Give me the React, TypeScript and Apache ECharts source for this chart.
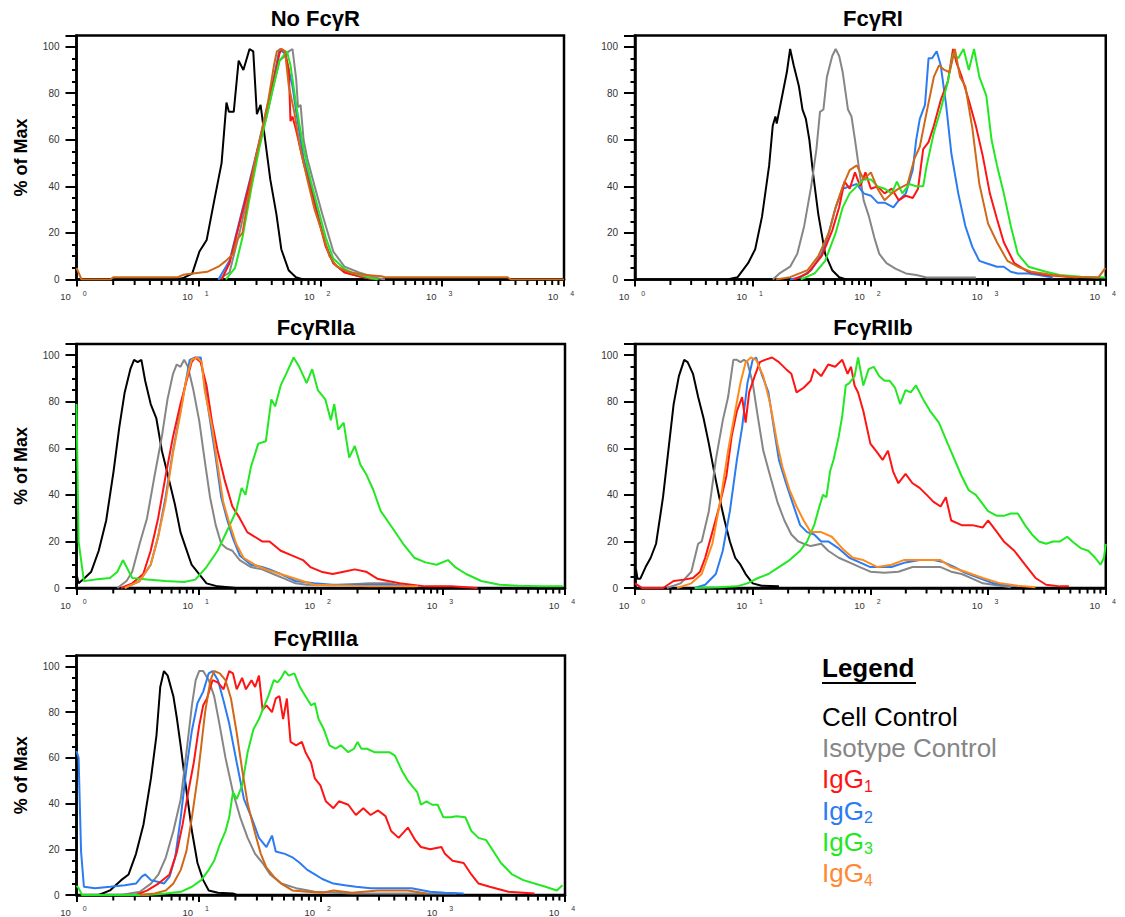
import React, { useEffect, useRef } from 'react';
import * as echarts from 'echarts';

type Pt = [number, number];

const panelTitles = ['No FcγR', 'FcγRI', 'FcγRIIa', 'FcγRIIb', 'FcγRIIIa'];
const seriesNames = ['Cell Control', 'Isotype Control', 'IgG1', 'IgG2', 'IgG3', 'IgG4'];
const legendTitle = 'Legend';
const yAxisName = '% of Max';
const minorTickValues = [2, 3, 4, 5, 6, 7, 8, 9, 20, 30, 40, 50, 60, 70, 80, 90, 200, 300, 400, 500, 600, 700, 800, 900, 2000, 3000, 4000, 5000, 6000, 7000, 8000, 9000];

// ---------- Panel 1: No FcγR ----------
const p1Cell: Pt[] = [[6.3,0],[7.4,0.5],[8.9,2.5],[10.2,12],[11.7,17],[13.5,34],[15.5,50],[17.0,76],[17.8,72],[19.5,72],[21.4,94],[23.4,90],[26.3,99],[28.2,98],[30.2,71],[32.4,75],[34.7,63],[38.9,43],[43.7,28],[47.9,13],[55.0,4],[63.1,1],[72.4,0]];
const p1Iso: Pt[] = [[14.6,0],[18.0,3],[22.2,22],[27.4,44],[31.5,58],[36.3,70],[41.7,84],[46.3,94],[51.4,96],[55.2,98],[59.2,99],[63.5,86],[65.7,74],[69.0,75],[73.0,60],[78.3,52],[90.0,40],[104,28],[128,12],[158,5.5],[208,3],[257,1.5],[300,0.5],[340,0]];
const p1IgG1: Pt[] = [[15.5,0],[18.0,7],[22.2,26],[27.4,45],[31.5,58],[36.3,72],[41.7,86],[46.3,97],[48.0,99],[51.4,98],[55.2,90],[57.0,68],[59.2,70],[63.5,64],[73.0,50],[84.0,38],[96.6,26],[111,14],[128,7],[158,3],[208,1.4],[257,0.4],[300,0]];
const p1IgG2: Pt[] = [[14.6,0],[18.0,8],[22.2,27],[27.4,46],[31.5,59],[36.3,73],[41.7,87],[46.3,99],[51.4,97],[59.2,83],[63.5,72],[73.0,52],[84.0,40],[96.6,27],[111,15],[128,7],[158,3.3],[208,1.4],[257,0.4],[296,0]];
const p1IgG3: Pt[] = [[16.8,0],[20.0,5],[23.0,18],[27.4,40],[31.5,56],[36.3,70],[41.7,84],[46.3,94],[51.4,97],[53.2,98],[57.0,92],[63.5,75],[73.0,56],[84.0,42],[96.6,30],[111,18],[128,9],[158,4.5],[181,3],[208,2],[257,0.7],[300,0]];
const p1IgG4: Pt[] = [[1.0,5],[1.1,0],[1.9,0],[2.0,1],[6.8,1],[7.5,2],[11.8,3.3],[14.6,5.5],[16.8,8],[19.3,11],[20.7,17],[23.0,20],[25.5,34],[29.4,52],[33.8,66],[37.5,77],[41.7,92],[44.1,98],[48.0,99],[51.4,98],[55.2,83],[61.2,72],[68.1,57],[78.3,43],[89.9,30],[104,20],[119,10],[137,5.5],[169,3.3],[224,2],[318,1.4],[340,1],[3430,1],[3670,0],[10000,0]];

// ---------- Panel 2: FcγRI ----------
const p2Cell: Pt[] = [[6.07,0],[7.45,1],[9.14,7],[10.5,13],[12.0,27],[13.8,49],[14.8,66],[15.6,70],[16.0,67],[17.5,77],[19.5,89],[20.8,99],[22.3,92],[24.7,83],[26.5,73],[28.3,69],[30.3,60],[32.5,46],[36.1,28],[41.3,11],[47.4,4],[54.3,1],[62.4,0]];
const p2Iso: Pt[] = [[14.8,0],[16.9,2.6],[20.8,5.5],[23.9,11],[27.4,23],[31.4,40],[34.8,56],[37.3,72],[39.9,73],[42.7,87],[47.4,96],[50.7,99],[54.3,96],[58.2,89],[64.5,73],[69.1,70],[74.0,60],[82.0,44],[87.7,34],[97.3,27],[108,18],[119,11],[137,7],[163,4.7],[200,2.6],[245,1.9],[301,0.9],[455,0.9],[787,0.9]];
const p2IgG1: Pt[] = [[22.3,0],[29.3,2.6],[38.6,10],[47.4,21],[54.3,31],[60.2,42],[66.7,39],[74.0,46],[82.0,40],[90.8,46],[101,39],[115,40],[132,37],[152,39],[174,34],[200,36],[229,35],[254,39],[281,56],[312,59],[346,66],[396,77],[455,85],[504,99],[540,93],[598,87],[686,77],[787,66],[902,53],[1035,37],[1190,26],[1360,16],[1670,7],[2200,3.3],[3100,1.9],[4680,1.2],[5740,0.9]];
const p2IgG2: Pt[] = [[20.8,0],[25.6,1],[31.4,4],[38.6,11],[44.3,20],[50.7,31],[58.2,39],[66.7,40],[76.6,41],[87.7,37],[101,36],[115,33],[132,33],[157,31],[174,34],[200,37],[229,47],[245,60],[263,69],[291,75],[312,95],[334,95],[366,98],[396,92],[440,75],[488,54],[558,37],[641,23],[735,14],[843,8],[966,7],[1190,5.5],[1360,5.5],[1560,3.3],[1790,2.6],[2200,2.6],[2700,1.9],[3550,0.9]];
const p2IgG3: Pt[] = [[25.6,0],[33.6,2.6],[41.3,8],[50.7,20],[58.2,31],[66.7,37],[76.6,40],[87.7,43],[101,43],[115,40],[132,39],[152,37],[168,42],[187,37],[214,41],[245,40],[281,40],[301,49],[346,63],[396,73],[455,85],[504,97],[558,95],[619,99],[686,90],[760,99],[843,87],[966,79],[1070,60],[1190,49],[1360,37],[1560,23],[1790,11],[2200,5.5],[3100,3.3],[4070,1.9],[6150,1.2],[9930,0.9]];
const p2IgG4: Pt[] = [[15.8,0],[20.8,1],[29.3,4],[36.1,10],[44.3,20],[50.7,31],[58.2,40],[66.7,47],[76.6,49],[87.7,43],[101,46],[115,39],[132,34],[152,37],[174,39],[207,41],[237,52],[263,57],[301,72],[346,87],[383,92],[425,90],[471,89],[522,99],[578,87],[641,83],[735,65],[843,41],[1000,24],[1190,16],[1460,8],[1790,5.5],[2350,3.3],[3550,1.9],[5000,1.2],[8670,0.9],[9930,5]];

// ---------- Panel 3: FcγRIIa ----------
const p3Cell: Pt[] = [[1.0,0],[1.01,5],[1.04,2],[1.15,4],[1.32,7],[1.52,16],[1.75,29],[2.01,50],[2.24,69],[2.48,84],[2.76,94],[2.96,98],[3.17,97],[3.40,98],[3.65,89],[4.05,79],[4.50,73],[5.00,59],[5.75,46],[6.39,36],[7.10,24],[7.88,17],[8.76,10],[10.1,6],[11.6,2],[14.3,0.7],[17.6,0.3],[20.3,0]];
const p3Iso: Pt[] = [[2.16,0],[2.57,3],[2.86,7],[3.29,19],[3.78,30],[4.35,48],[5.00,65],[5.56,81],[6.17,92],[6.62,96],[7.10,95],[7.61,98],[8.17,95],[9.06,85],[10.1,72],[11.2,55],[12.4,39],[13.8,27],[15.3,19],[17.0,17],[18.9,16],[21.7,12],[26.8,9],[33.1,8],[40.8,6],[50.4,4],[62.1,2],[76.6,1.4],[125,1.2],[252,2],[357,2],[507,0.7]];
const p3IgG1: Pt[] = [[2.32,0],[2.86,2],[3.52,6],[4.05,16],[4.66,30],[5.36,48],[6.17,65],[7.10,79],[7.88,88],[8.76,97],[9.40,99],[10.4,97],[11.6,87],[12.9,71],[14.3,59],[16.4,46],[18.9,35],[21.7,30],[25.0,24],[28.8,22],[33.1,20],[38.1,20],[47.0,16],[57.9,14],[71.5,12],[82.2,9],[101,7],[125,6],[154,7],[190,8],[235,7],[290,4],[357,3],[441,2],[719,0.7],[1175,0.7],[1920,0]];
const p3IgG2: Pt[] = [[2.48,0],[3.29,3],[4.05,10],[4.66,22],[5.36,39],[6.17,59],[7.10,76],[7.88,89],[8.45,98],[9.40,99],[10.4,99],[11.2,87],[12.4,72],[13.8,56],[15.3,39],[17.0,30],[18.9,22],[21.7,14],[26.8,10],[33.1,9],[38.1,8],[47.0,6],[62.1,3],[88.2,2],[125,1.4],[252,1.4],[357,1.4],[583,0.7]];
const p3IgG3: Pt[] = [[1.0,79],[1.04,20],[1.15,3],[1.42,3.6],[1.88,4.3],[2.16,7],[2.40,12],[2.57,9],[2.86,4.3],[3.78,3.6],[5.36,3],[7.61,2.6],[9.40,3.6],[11.6,9],[14.3,16],[17.6,26],[20.3,33],[22.5,43],[24.2,40],[26.8,52],[30.8,62],[35.5,63],[39.4,81],[42.3,78],[47.0,87],[52.1,92],[60.0,99],[66.7,95],[76.6,88],[85.1,94],[94.6,85],[109,81],[121,72],[129,79],[139,68],[154,71],[171,56],[190,61],[211,53],[235,49],[270,42],[310,33],[384,26],[473,19],[583,13],[719,11],[887,10],[1100,12],[1260,9],[1550,6],[2060,3],[2920,1.4],[4140,1],[6300,0.7],[9590,0.7]];
const p3IgG4: Pt[] = [[2.48,0],[3.29,3],[4.05,10],[4.66,22],[5.36,37],[6.17,58],[7.10,75],[7.88,89],[8.76,98],[9.73,99],[10.6,97],[11.2,85],[12.9,69],[14.3,53],[15.9,37],[17.6,29],[20.3,19],[23.3,13],[28.8,10],[35.5,8],[47.0,6],[62.1,4],[88.2,1.4],[125,1.2],[252,0.7],[625,0.7]];

// ---------- Panel 4: FcγRIIb ----------
const p4Cell: Pt[] = [[1.0,0],[1.02,8],[1.05,4],[1.11,4],[1.23,9],[1.36,13],[1.51,19],[1.73,39],[1.92,59],[2.13,79],[2.36,91],[2.62,98],[2.80,97],[3.11,92],[3.44,82],[3.82,73],[4.24,62],[4.70,50],[5.20,39],[5.77,29],[6.40,20],[7.10,13],[7.87,10],[8.71,6],[10.0,2],[11.9,1],[16.7,0.7]];
const p4Iso: Pt[] = [[1.86,0],[2.44,2],[3.01,7],[3.44,19],[3.69,20],[4.24,33],[4.86,55],[5.57,72],[6.18,82],[6.85,98],[7.34,98],[7.87,97],[8.42,98],[9.02,97],[10.0,88],[11.1,73],[12.3,59],[14.1,48],[16.2,37],[18.6,29],[21.3,23],[24.4,20],[27.1,19],[31.1,18],[38.2,19],[43.8,16],[53.8,13],[66.2,11],[81.3,9],[100,7],[132,6.5],[173,7],[228,9],[301,9],[395,9],[486,7],[597,6],[734,4],[902,2],[1270,1],[1560,0.3]];
const p4IgG1: Pt[] = [[1.0,2],[1.15,0],[1.73,0],[2.13,3],[2.62,3.6],[3.11,4.3],[3.57,7],[3.95,13],[4.54,24],[5.20,35],[5.97,48],[6.62,65],[7.34,76],[8.13,82],[8.71,71],[9.33,84],[10.4,91],[11.5,97],[12.7,98],[14.6,99],[16.7,97],[19.2,94],[21.3,92],[23.6,84],[27.1,86],[31.1,89],[33.3,94],[38.2,91],[43.8,96],[50.2,95],[57.7,98],[64.0,92],[68.5,95],[73.4,87],[78.6,84],[87.1,76],[100,62],[115,58],[127,55],[141,59],[156,50],[173,45],[199,49],[228,45],[262,43],[301,40],[344,37],[395,35],[438,39],[486,29],[597,27],[734,27],[902,26],[1000,29],[1190,24],[1360,20],[1670,16],[2060,10],[2530,4.3],[3110,1.4],[4090,0.7],[4860,0.7]];
const p4IgG2: Pt[] = [[3.22,0],[3.95,1.4],[4.86,6],[5.57,16],[6.40,33],[7.34,55],[8.13,69],[9.02,88],[10.0,98],[10.7,99],[11.9,92],[13.6,84],[15.1,69],[16.7,55],[19.2,45],[22.0,36],[25.3,27],[29.0,24],[33.3,23],[38.2,20],[43.8,20],[53.8,17],[66.2,13],[81.3,11],[100,9],[123,9],[151,9],[199,11],[262,12],[344,12],[424,11],[520,9],[640,6.5],[841,4.3],[1110,2],[1360,1.4],[1790,0.7]];
const p4IgG3: Pt[] = [[3.22,0],[5.20,0.3],[7.34,0.7],[9.02,2],[11.1,4.3],[13.6,6],[16.7,9],[20.6,12],[25.3,16],[29.0,20],[33.3,27],[36.9,35],[39.5,40],[42.3,39],[45.4,50],[48.6,55],[53.8,65],[57.7,74],[61.8,87],[66.2,88],[73.4,91],[78.6,99],[87.1,87],[96.6,94],[107,95],[119,91],[132,89],[146,89],[162,86],[179,79],[199,85],[220,84],[244,87],[281,81],[322,76],[382,71],[454,62],[520,55],[597,48],[685,42],[787,40],[902,36],[1000,33],[1190,31],[1360,31],[1560,32],[1790,32],[2060,27],[2360,23],[2710,20],[3110,19],[3560,20],[4090,20],[4700,22],[5200,20],[6180,17],[7100,16],[8130,13],[9020,10],[9660,13],[10000,19]];
const p4IgG4: Pt[] = [[2.28,0],[3.01,2],[3.69,6],[4.54,19],[5.38,39],[6.18,59],[7.10,76],[7.87,88],[8.71,97],[9.66,99],[10.7,98],[12.3,91],[14.1,79],[16.2,62],[17.9,52],[20.6,42],[23.6,35],[27.1,29],[31.1,24],[38.2,24],[47.0,22],[57.7,17],[71.0,13],[87.1,12],[115,9],[151,10],[192,12],[228,12],[301,12],[395,12],[486,9],[640,7],[902,4.3],[1270,2],[1790,1],[2530,0.3]];

// ---------- Panel 5: FcγRIIIa ----------
const p5Cell: Pt[] = [[1.52,0],[1.88,2],[2.32,6.5],[2.67,9],[3.07,18],[3.54,31],[4.07,51],[4.52,70],[4.85,91],[5.20,98],[5.58,96],[6.21,87],[6.65,77],[7.14,65],[7.66,52],[8.22,40],[8.81,28],[9.79,14],[10.9,6.5],[12.1,2],[14.4,1],[19.1,0.7],[20.5,0]];
const p5Iso: Pt[] = [[2.32,0],[3.30,1.4],[4.07,5],[4.69,9],[5.39,16.5],[6.21,28],[7.14,42],[7.93,62],[8.81,83],[9.46,94],[10.1,98],[10.9,98],[12.1,94],[13.4,87],[14.9,74],[16.6,60],[19.1,45],[21.9,34],[25.2,25],[29.0,18],[33.4,14],[38.5,9],[47.5,5],[62.9,3],[89.4,1.4],[180,0.7],[517,0.7],[1290,0.7]];
const p5IgG1: Pt[] = [[3.07,0],[3.80,2],[4.69,5],[5.78,9],[6.65,19],[7.40,31],[8.22,45],[9.13,58],[10.1,74],[10.9,83],[11.7,86],[13.0,94],[14.4,93],[16.0,90],[17.8,98],[19.1,97],[20.5,90],[22.7,95],[24.4,90],[27.1,94],[29.0,91],[31.2,96],[33.4,81],[35.9,83],[39.9,80],[42.8,86],[45.9,87],[49.2,77],[52.8,86],[56.6,67],[62.9,65.5],[70.0,67],[75.0,62.5],[83.3,58],[89.4,51],[99.3,48],[110,41],[127,38],[141,41],[168,39.5],[194,35],[223,38],[256,35],[295,37],[339,34.5],[377,28],[434,25],[517,29.5],[594,24],[661,21],[787,20],[973,21],[1040,18],[1200,15],[1480,14],[1710,9],[1960,5],[2420,3.6],[3440,1.4],[4560,1],[5620,0.7]];
const p5IgG2: Pt[] = [[1.0,63],[1.04,60],[1.09,19],[1.15,3.6],[1.42,3],[1.88,3.6],[2.49,4.3],[3.07,5],[3.42,8],[3.66,9],[4.07,6.5],[4.69,5.7],[5.20,5],[5.78,8],[6.43,16.5],[7.14,34],[7.93,55],[8.81,72],[9.79,84],[10.9,89],[12.1,97],[13.0,98],[14.4,94],[16.0,85],[17.8,75],[20.5,58],[23.5,42],[27.1,34],[31.2,25],[35.9,21],[39.9,26],[42.8,19],[50.9,18],[58.6,16.5],[67.5,14],[77.6,11],[89.4,9],[103,7],[127,5],[157,4.3],[194,3.6],[256,3],[364,3],[555,3],[787,1.4],[1040,1],[1480,0.7]];
const p5IgG3: Pt[] = [[1.0,4],[1.04,3],[1.11,0],[3.80,0],[5.39,0.7],[7.14,1.4],[8.81,3.6],[10.5,6.5],[12.1,11],[13.4,15],[14.9,22],[16.6,28],[17.8,34],[19.1,45],[20.5,42],[22.7,48],[25.2,62.5],[28.1,72.5],[31.2,77],[33.4,81],[37.2,87],[41.3,94],[44.3,93],[47.5,95],[50.9,98],[54.7,96],[60.8,97],[67.5,91],[75.0,87],[83.3,83],[89.4,84],[95.9,77],[106,72.5],[118,65.5],[132,64],[146,65.5],[168,62.5],[187,64],[200,67],[215,64],[239,64],[275,62.5],[316,62.5],[364,62.5],[405,61],[466,54],[517,50],[574,47],[617,45],[661,39.5],[735,41],[816,39.5],[906,39.5],[1010,34],[1160,34],[1290,34.5],[1530,34],[1710,28],[1960,25],[2260,24],[2600,19],[2990,14],[3690,9],[4560,6.5],[5620,5],[6930,3.6],[8570,2],[9530,4.3]];
const p5IgG4: Pt[] = [[3.30,0],[4.37,0.7],[5.39,2],[6.21,5],[7.14,11],[7.93,19],[8.81,34],[9.79,51],[10.5,65],[11.3,80],[12.5,94],[13.4,98],[14.9,97],[16.6,94],[18.4,86],[20.5,71],[22.7,55],[25.2,40],[29.0,27],[32.3,18],[35.9,12],[41.3,8],[47.5,5],[58.6,2],[77.6,1.4],[103,1],[127,2],[180,1],[295,2],[390,2],[517,2],[735,0.7]];

const FONT = 'Liberation Sans, Arial, Helvetica, sans-serif';
const C_BLACK = '#000000';
const C_GRAY = '#868686';
const C_RED = '#ff1414';
const C_BLUE = '#2b7cf2';
const C_GREEN = '#22e822';
const C_ORANGE_DARK = '#d06818';
const C_ORANGE = '#ff8a1c';
const C_LEGEND_ORANGE = '#ff8833';

const panels = [
  { data: [p1Cell, p1Iso, p1IgG2, p1IgG1, p1IgG3, p1IgG4], orange: C_ORANGE_DARK },
  { data: [p2Cell, p2Iso, p2IgG2, p2IgG1, p2IgG3, p2IgG4], orange: C_ORANGE_DARK },
  { data: [p3Cell, p3Iso, p3IgG2, p3IgG1, p3IgG3, p3IgG4], orange: C_ORANGE },
  { data: [p4Cell, p4Iso, p4IgG2, p4IgG1, p4IgG3, p4IgG4], orange: C_ORANGE },
  { data: [p5Cell, p5Iso, p5IgG2, p5IgG1, p5IgG3, p5IgG4], orange: C_ORANGE_DARK },
];
const drawNames = [seriesNames[0], seriesNames[1], seriesNames[3], seriesNames[2], seriesNames[4], seriesNames[5]];

const gridBoxes = [
  { left: 76.5, top: 35.5, width: 487.5, height: 244 },
  { left: 635, top: 35.5, width: 486, height: 244 },
  { left: 76.5, top: 344, width: 488.5, height: 244 },
  { left: 635, top: 344, width: 486, height: 244 },
  { left: 76.5, top: 655.5, width: 488.5, height: 243.5 },
];

export default function App() {
  const ref = useRef<HTMLDivElement>(null);
  useEffect(() => {
    if (!ref.current) return;
    const chart = echarts.init(ref.current, undefined, { renderer: 'svg' });

    const grids: any[] = [];
    const xAxes: any[] = [];
    const yAxes: any[] = [];
    const series: any[] = [];
    const graphics: any[] = [];

    gridBoxes.forEach((g, i) => {
      grids.push({ ...g, show: true, borderColor: '#000', borderWidth: 2.5, containLabel: false });
      xAxes.push({
        type: 'log', logBase: 10, min: 1, max: 10000, gridIndex: i, position: 'bottom',
        axisLine: { show: true, onZero: false, lineStyle: { color: '#000', width: 2.5 } },
        axisTick: { show: true, length: 7, lineStyle: { color: '#000', width: 2 } },
        axisLabel: {
          showMinLabel: true, showMaxLabel: true, margin: 10,
          formatter: (v: number) => `{n|10}{e|${Math.round(Math.log10(v))}}`,
          rich: {
            n: { fontSize: 9.5, color: '#333', fontFamily: FONT, lineHeight: 14, padding: [0, 6, 0, 0] },
            e: { fontSize: 7, color: '#333', fontFamily: FONT, verticalAlign: 'top', lineHeight: 8, padding: [0, 6, 0, 6] },
          },
        },
        splitLine: { show: false },
      });
      yAxes.push({
        type: 'value', gridIndex: i, min: 0, max: 104.8, interval: 20,
        axisLine: { show: true, onZero: false, lineStyle: { color: '#000', width: 2.5 } },
        axisTick: { show: true, length: 11, lineStyle: { color: '#000', width: 2 } },
        minorTick: { show: true, splitNumber: 4, length: 4.5, lineStyle: { color: '#000', width: 2 } },
        axisLabel: { fontSize: 10, color: '#333', fontFamily: FONT, showMaxLabel: false, margin: 17 },
        splitLine: { show: false },
        minorSplitLine: { show: false },
        name: i % 2 === 0 ? yAxisName : '',
        nameLocation: 'middle',
        nameGap: 47,
        nameTextStyle: { fontSize: 18, fontWeight: 'bold', color: '#000', fontFamily: FONT },
      });
      // minor log ticks on the x axis, positioned through the axis scale
      series.push({
        type: 'custom', xAxisIndex: i, yAxisIndex: i, silent: true, clip: false, z: 5,
        data: minorTickValues.map((v) => [v, 0]),
        renderItem: (_p: any, api: any) => {
          const pt = api.coord([api.value(0), 0]);
          return {
            type: 'line',
            shape: { x1: pt[0], y1: pt[1] + 1, x2: pt[0], y2: pt[1] + 5.5 },
            style: { stroke: '#000', lineWidth: 2 },
          };
        },
      });
      const colors = [C_BLACK, C_GRAY, C_BLUE, C_RED, C_GREEN, panels[i].orange];
      panels[i].data.forEach((d, k) => {
        series.push({
          type: 'line', name: drawNames[k], xAxisIndex: i, yAxisIndex: i,
          data: d, showSymbol: false, symbol: 'none', silent: true, clip: true,
          lineStyle: { width: 2, color: colors[k] }, itemStyle: { color: colors[k] },
        });
      });
      graphics.push({
        type: 'text', x: g.left + g.width / 2 - 5, y: g.top - 17,
        style: { text: panelTitles[i], fontSize: 22, fontWeight: 'bold', fontFamily: FONT, fill: '#000', align: 'center', verticalAlign: 'middle' },
      });
    });

    // Legend
    const lx = 822;
    graphics.push({
      type: 'text', x: lx, y: 668,
      style: { text: legendTitle, fontSize: 26, fontWeight: 'bold', fontFamily: FONT, fill: '#000', align: 'left', verticalAlign: 'middle' },
    });
    graphics.push({ type: 'line', shape: { x1: lx, y1: 683, x2: lx + 94, y2: 683 }, style: { stroke: '#000', lineWidth: 2 } });
    const legendColors = [C_BLACK, C_GRAY, C_RED, C_BLUE, C_GREEN, C_LEGEND_ORANGE];
    seriesNames.forEach((nm, k) => {
      const y = 717 + k * 31.2;
      const c = legendColors[k];
      const m = nm.match(/^IgG(\d)$/);
      if (m) {
        graphics.push({
          type: 'text', x: lx, y,
          style: {
            text: `{m|IgG}{s|${m[1]}}`, fontSize: 26, fontFamily: FONT, fill: c, align: 'left', verticalAlign: 'middle',
            rich: {
              m: { fontSize: 26, fontFamily: FONT, fill: c, lineHeight: 30 },
              s: { fontSize: 16, fontFamily: FONT, fill: c, verticalAlign: 'bottom', lineHeight: 16 },
            },
          },
        });
      } else {
        graphics.push({
          type: 'text', x: lx, y,
          style: { text: nm, fontSize: 26, fontFamily: FONT, fill: c, align: 'left', verticalAlign: 'middle' },
        });
      }
    });

    chart.setOption({
      animation: false,
      backgroundColor: '#ffffff',
      grid: grids,
      xAxis: xAxes,
      yAxis: yAxes,
      series,
      graphic: graphics,
    });
    return () => chart.dispose();
  }, []);
  return <div ref={ref} style={{ position: 'absolute', left: 0, top: 0, width: 1125, height: 917 }} />;
}
